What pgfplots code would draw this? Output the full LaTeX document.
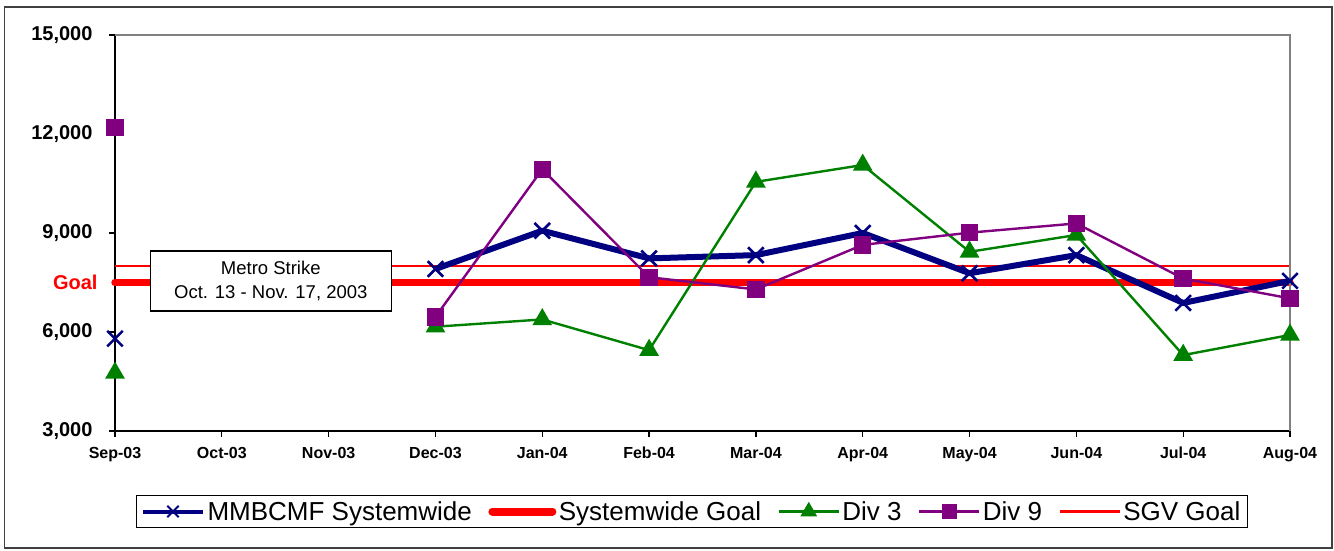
\documentclass[border=0pt]{standalone}
\usepackage{pgfplots}
\pgfplotsset{compat=1.18}
\usepackage{fontspec}
\setmainfont{Liberation Sans}
\definecolor{navy}{RGB}{0,0,128}
\definecolor{dgreen}{RGB}{0,128,0}
\definecolor{purp}{RGB}{128,0,128}
\definecolor{frgray}{RGB}{128,128,128}
\begin{document}
\begin{tikzpicture}
\useasboundingbox (0,0) rectangle (1334pt,551pt);
\draw[line width=1.2pt, black!75] (4.5pt,3pt) rectangle (1332pt,544pt);
\begin{axis}[
  at={(115pt,120pt)}, anchor=south west,
  scale only axis, width=1175pt, height=396pt,
  xmin=0, xmax=11, ymin=3000, ymax=15000,
  axis x line*=bottom, axis y line*=left,
  axis line style={line width=1.3pt, -},
  xtick={0,...,11},
  xticklabels={Sep-03,Oct-03,Nov-03,Dec-03,Jan-04,Feb-04,Mar-04,Apr-04,May-04,Jun-04,Jul-04,Aug-04},
  ytick={3000,6000,9000,12000,15000},
  scaled y ticks=false,
  tick align=outside,
  major tick length=6pt,
  tick style={line width=1.3pt, black},
  /pgf/number format/.cd, fixed, 1000 sep={,}, assume math mode=true, /pgfplots/.cd,
  yticklabel style={font=\fontsize{20}{20}\selectfont\bfseries, xshift=-13pt},
  xticklabel style={font=\fontsize{16}{16}\selectfont\bfseries, text height=12pt, text depth=3pt, yshift=-6pt},
  unbounded coords=jump,
  clip=false,
  legend columns=5,
  legend style={at={(0.491,-0.2033)}, anchor=center, draw=black, line width=1pt,
    font=\fontsize{26}{28}\selectfont, inner xsep=5pt, inner ysep=5pt,
    nodes={inner xsep=2.5pt, inner ysep=1pt},
    /tikz/every even column/.append style={column sep=14pt}},
  legend image code/.code={\draw[mark repeat=2,mark phase=2,#1] plot coordinates {(0pt,0pt) (30pt,0pt) (60pt,0pt)};},
]
\addlegendimage{navy, line width=4pt, mark=x, mark size=8pt, mark options={solid, line width=2pt}}
\addlegendentry{MMBCMF Systemwide}
\addlegendimage{red, line width=8pt, line cap=round}
\addlegendentry{Systemwide Goal}
\addlegendimage{dgreen, line width=2.2pt, mark=triangle*, mark size=7.5pt}
\addlegendentry{Div 3}
\addlegendimage{purp, line width=2.2pt, mark=square*, mark size=6.5pt}
\addlegendentry{Div 9}
\addlegendimage{red, line width=2.2pt}
\addlegendentry{SGV Goal}

\addplot[forget plot, red, line width=7.5pt, line cap=round] coordinates {(0,7500) (1,7500) (2,7500) (3,7500) (4,7500) (5,7500) (6,7500) (7,7500) (8,7500) (9,7500) (10,7500) (11,7500)};
\addplot[forget plot, red, line width=2.4pt] coordinates {(0,8000) (1,8000) (2,8000) (3,8000) (4,8000) (5,8000) (6,8000) (7,8000) (8,8000) (9,8000) (10,8000) (11,8000)};
\addplot[forget plot, navy, line width=6pt, line join=round, mark=x, mark size=11pt, mark options={solid, line width=2.6pt}] coordinates {(0,5800) (1,nan) (2,nan) (3,7910) (4,9070) (5,8230) (6,8330) (7,9000) (8,7780) (9,8330) (10,6880) (11,7550)};
\addplot[forget plot, dgreen, line width=2.4pt, mark=triangle*, mark size=9pt] coordinates {(0,4760) (1,nan) (2,nan) (3,6160) (4,6380) (5,5450) (6,10550) (7,11060) (8,8430) (9,8940) (10,5300) (11,5910)};
\addplot[forget plot, purp, line width=2.4pt, mark=square*, mark size=7.5pt] coordinates {(0,12200) (1,nan) (2,nan) (3,6460) (4,10930) (5,7660) (6,7290) (7,8640) (8,9010) (9,9290) (10,7620) (11,7020)};

\draw[frgray, line width=2.5pt] (rel axis cs:0,1) -- (rel axis cs:1,1) -- (rel axis cs:1,0);
\node[draw=black, line width=1.5pt, fill=white, minimum width=241pt, minimum height=60pt, align=center, font=\fontsize{18.5}{24}\selectfont] at (axis cs:1.4586,7545) {Metro Strike\\Oct. 13 - Nov. 17, 2003};
\node[anchor=east, text=red, font=\fontsize{20}{20}\selectfont\bfseries] at ([xshift=-14pt]axis cs:0,7500) {Goal};
\end{axis}
\end{tikzpicture}
\end{document}
